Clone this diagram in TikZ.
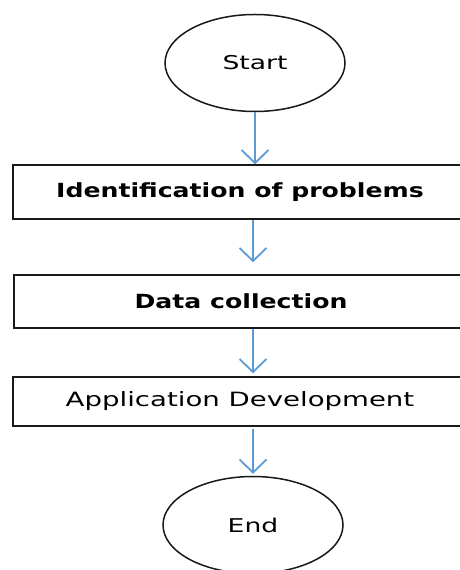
\documentclass[tikz,border=0pt]{standalone}
\usepackage{fontspec}
\setmainfont[FakeStretch=1.4]{DejaVu Sans}
\newfontfamily\boldsf[FakeStretch=1.29]{DejaVu Sans Bold}
\usepackage{tikz}
\usetikzlibrary{shapes.geometric,arrows.meta}
\definecolor{flowblue}{HTML}{5B9BD5}
\tikzset{
	term/.style={ellipse,draw=black!90,line width=1.5pt,minimum width=180pt,minimum height=97pt,inner sep=0pt,font=\fontsize{19}{21}\selectfont},
	stepbox/.style={rectangle,draw=black!90,line width=1.5pt,minimum width=454pt,inner sep=0pt,font=\fontsize{19.7}{21}\selectfont},
	boldtxt/.style={font=\fontsize{19.5}{21}\boldsf},
	flow/.style={draw=flowblue,line width=1.8pt,-{Straight Barb[length=13pt,width=27pt,line width=1.8pt]}}
}
\begin{document}
\begin{tikzpicture}[x=1pt,y=1pt]
						\useasboundingbox (0,0) rectangle (459,570);
						\node [term] (start) at (255,507) {Start};
						\node [stepbox,boldtxt,minimum height=54pt] (idprob) at (240,378) {Identification of problems};
						\node [stepbox,boldtxt,minimum height=53pt] (datacoll) at (241,268.5) {Data collection};
						\node [stepbox,minimum height=49pt] (appdev) at (240,168.5) {Application Development};
						\node [term] (finish) at (253,45) {End};
						
						\draw [flow] (start.south) -- (start.south |- idprob.north);
						\draw [flow,shorten >=12pt] (idprob.south -| finish) -- (finish |- datacoll.north);
						\draw [flow,shorten >=3pt] (datacoll.south -| finish) -- (finish |- appdev.north);
						\draw [flow,shorten <=2pt,shorten >=2pt] (appdev.south -| finish) -- (finish.north);
					\end{tikzpicture}
\end{document}
